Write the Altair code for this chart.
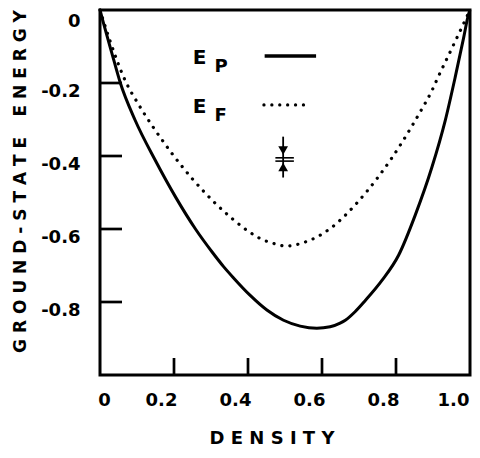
import altair as alt
import pandas as pd

# E_P (solid) curve
density_p = [0, 0.01, 0.032, 0.055, 0.095, 0.149, 0.204, 0.258, 0.303, 0.334, 0.361,
             0.406, 0.451, 0.496, 0.541, 0.586, 0.622, 0.649, 0.663, 0.69, 0.717, 0.762,
             0.807, 0.852, 0.897, 0.933, 0.960, 0.983, 0.996, 1.0]
energy_p = [0, -0.038, -0.118, -0.200, -0.302, -0.411, -0.512, -0.600, -0.663, -0.703, -0.734,
            -0.782, -0.822, -0.850, -0.866, -0.872, -0.868, -0.858, -0.850, -0.826, -0.796, -0.741,
            -0.672, -0.562, -0.431, -0.303, -0.184, -0.075, -0.012, 0]

# E_F (dotted) curve
density_f = [0, 0.0235, 0.068, 0.105, 0.145, 0.172, 0.195, 0.226, 0.25, 0.285, 0.312, 0.343,
             0.361, 0.402, 0.433, 0.478, 0.503, 0.530, 0.559, 0.586, 0.606, 0.627, 0.649,
             0.672, 0.722, 0.753, 0.789, 0.816, 0.843, 0.870, 0.897, 0.915, 0.933, 0.951,
             0.974, 0.992, 1.0]
energy_f = [0, -0.074, -0.193, -0.260, -0.323, -0.362, -0.394, -0.434, -0.463, -0.502, -0.530,
            -0.559, -0.575, -0.607, -0.626, -0.642, -0.647, -0.643, -0.634, -0.622, -0.610,
            -0.595, -0.576, -0.553, -0.496, -0.456, -0.405, -0.363, -0.318, -0.271, -0.221,
            -0.181, -0.143, -0.105, -0.056, -0.017, 0]

x_label_values = [0, 0.2, 0.4, 0.6, 0.8, 1.0]
y_label_values = [0, -0.2, -0.4, -0.6, -0.8]
x_tick_values = [0.2, 0.4, 0.6, 0.8]
y_tick_values = [-0.2, -0.4, -0.6, -0.8]

# legend (in data coordinates)
legend_letters = ["E", "P", "E", "F"]
legend_letter_x = [0.269, 0.327, 0.269, 0.326]
legend_letter_y = [-0.132, -0.155, -0.267, -0.290]
legend_letter_size = [20, 18, 20, 18]
legend_solid = {"x": [0.445], "x2": [0.584], "y": [-0.126]}
legend_dotted = {"x": [0.443], "x2": [0.570], "y": [-0.260]}

# error-bar symbol
err_x = 0.495
err_top, err_bottom = -0.347, -0.459
err_lines_y = [-0.405, -0.414]
err_lines_x = [0.474, 0.524]
arrow_down_y, arrow_up_y = -0.385, -0.430

W, H = 370, 365
FONT = "DejaVu Sans"

xs = alt.Scale(domain=[0, 1], nice=False, zero=False)
ys = alt.Scale(domain=[-1, 0], nice=False, zero=False)

df_p = pd.DataFrame({"x": density_p, "y": energy_p})
df_f = pd.DataFrame({"x": density_f, "y": energy_f})

x_axis = alt.Axis(
    values=x_label_values,
    labelExpr="datum.value == 0 ? '0' : format(datum.value, '.1f')",
    domain=False, ticks=False, tickSize=0, grid=False,
    labelFont=FONT, labelFontWeight="bold", labelFontSize=18, labelColor="black",
    labelBaseline="middle", labelAlign="center", labelPadding=25,
    labelOffset={"condition": [{"test": "datum.value == 0", "value": 4},
                               {"test": "datum.value == 1", "value": -17}],
                 "value": -13},
    labelFlush=False, labelOverlap=False,
    title="D E N S I T Y", titleFont=FONT, titleFontWeight="bold", titleFontSize=18,
    titleColor="black", titleX=171.5, titleY=63, titleBaseline="middle", titleAlign="center",
)
y_axis = alt.Axis(
    values=y_label_values,
    labelExpr="datum.value == 0 ? '0' : '-' + format(-datum.value, '.1f')",
    domain=False, ticks=False, tickSize=0, grid=False,
    labelFont=FONT, labelFontWeight="bold", labelFontSize=18, labelColor="black",
    labelBaseline="middle", labelAlign="right", labelPadding=20,
    labelOffset={"condition": {"test": "datum.value == 0", "value": 11}, "value": 8},
    labelFlush=False, labelOverlap=False,
    title="G R O U N D - S T A T E \u2002 E N E R G Y", titleFont=FONT, titleFontWeight="bold",
    titleFontSize=17, titleColor="black", titleAngle=270, titleX=-80, titleY=171,
    titleBaseline="middle", titleAlign="center",
)


def X(field="x"):
    return alt.X(f"{field}:Q", scale=xs, axis=x_axis)


def Y(field="y"):
    return alt.Y(f"{field}:Q", scale=ys, axis=y_axis)


solid = alt.Chart(df_p).mark_line(color="black", strokeWidth=3, interpolate="monotone").encode(
    x=X(), y=Y()
)
dotted = alt.Chart(df_f).mark_line(
    color="black", strokeWidth=3.2, strokeDash=[0.1, 8], strokeCap="round", interpolate="monotone"
).encode(x=X(), y=Y())

yticks = alt.Chart(pd.DataFrame({"y": y_tick_values})).mark_rule(color="black", strokeWidth=2.7).encode(
    y=Y(), x=alt.value(0), x2=alt.value(22)
)
xticks = alt.Chart(pd.DataFrame({"x": x_tick_values})).mark_rule(color="black", strokeWidth=2.7).encode(
    x=X(), y=alt.value(H), y2=alt.value(H - 17)
)

letters = alt.Chart(pd.DataFrame({
    "t": legend_letters, "x": legend_letter_x, "y": legend_letter_y, "s": legend_letter_size
})).mark_text(font=FONT, fontWeight="bold", color="black", align="center", baseline="middle").encode(
    x=X(), y=Y(),
    text="t:N",
    size=alt.Size("s:Q", scale=None, legend=None),
)

leg_solid = alt.Chart(pd.DataFrame(legend_solid)).mark_rule(color="black", strokeWidth=3.5).encode(
    x=X(), x2="x2:Q", y=Y()
)
leg_dotted = alt.Chart(pd.DataFrame(legend_dotted)).mark_rule(
    color="black", strokeWidth=3.2, strokeDash=[0.1, 7.8], strokeCap="round"
).encode(x=X(), x2="x2:Q", y=Y())

err_vert = alt.Chart(pd.DataFrame({"x": [err_x], "y": [err_top], "y2": [err_bottom]})).mark_rule(
    color="black", strokeWidth=1.8
).encode(x=X(), y=Y(), y2="y2:Q")
err_h = alt.Chart(pd.DataFrame({"x": [err_lines_x[0]] * 2, "x2": [err_lines_x[1]] * 2, "y": err_lines_y})).mark_rule(
    color="black", strokeWidth=1.6
).encode(x=X(), x2="x2:Q", y=Y())
err_down = alt.Chart(pd.DataFrame({"x": [err_x], "y": [arrow_down_y]})).mark_point(
    shape="triangle-down", filled=True, color="black", size=95, opacity=1
).encode(x=X(), y=Y())
err_up = alt.Chart(pd.DataFrame({"x": [err_x], "y": [arrow_up_y]})).mark_point(
    shape="triangle-up", filled=True, color="black", size=95, opacity=1
).encode(x=X(), y=Y())

chart = alt.layer(
    solid, dotted, yticks, xticks, letters, leg_solid, leg_dotted, err_vert, err_h, err_down, err_up
).properties(
    width=W, height=H,
    autosize=alt.AutoSizeParams(type="none"),
    padding={"left": 92, "top": 2, "right": 2, "bottom": 75},
    background="white",
).configure_view(
    stroke="black", strokeWidth=3
)

chart.save("out.html", embed_options={"renderer": "svg", "actions": False})
